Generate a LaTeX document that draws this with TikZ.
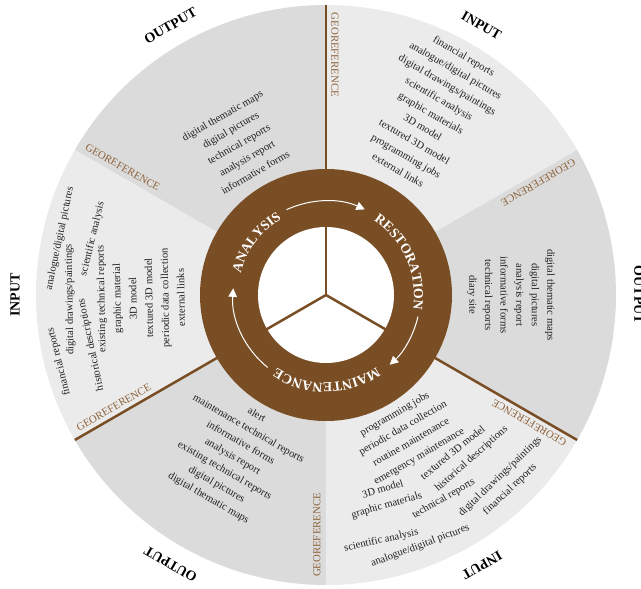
\documentclass[tikz,border=0pt]{standalone}
\usepackage{fontspec}
\setmainfont{Liberation Serif}
\usetikzlibrary{decorations.text,arrows.meta,calc}
\definecolor{ringbrown}{RGB}{122,78,37}
\definecolor{geobrown}{RGB}{140,98,58}
\definecolor{lightsec}{RGB}{235,235,235}
\definecolor{darksec}{RGB}{219,219,219}
\definecolor{txtcol}{RGB}{35,31,32}
\newcommand\ringfont{\bfseries\fontsize{13.8}{15}\selectfont}
\newcommand\cwline[4]{\pgfmathsetmacro\rotang{#2-90}\node[listtext, rotate=\rotang] (#1) at (#2:#3) {#4};}
\newcommand\rdline[4]{\pgfmathsetmacro\rotang{#2+90}\node[listtext, rotate=\rotang] (#1) at (#2:#3) {#4};}
\begin{document}
\begin{tikzpicture}[x=1pt,y=1pt,
  listtext/.style={font=\fontsize{10.6}{12}\selectfont, text=txtcol, inner sep=0pt, text height=7.5pt, text depth=2.5pt},
  georef/.style={font=\fontsize{10.8}{12}\selectfont, text=geobrown, inner sep=0pt, text height=7pt, text depth=0pt},
  sectorlabel/.style={font=\bfseries\fontsize{14}{16}\selectfont, text=black, inner sep=0pt, text height=9.3pt, text depth=0pt},
  divider/.style={draw=ringbrown, line width=2.5pt},
  cyclearrow/.style={draw=white, line width=1pt, -{Triangle[length=8.5pt,width=8.5pt]}},
]
\useasboundingbox (-326,-294) rectangle (315,295);
\fill[white] (-326,-294) rectangle (315,295);
\coordinate (O) at (0,0);

% sectors
\fill[lightsec] (O) -- (30:290) arc[start angle=30, end angle=90, radius=290] -- cycle;
\fill[darksec] (O) -- (90:290) arc[start angle=90, end angle=150, radius=290] -- cycle;
\fill[lightsec] (O) -- (150:290) arc[start angle=150, end angle=210, radius=290] -- cycle;
\fill[darksec] (O) -- (210:290) arc[start angle=210, end angle=270, radius=290] -- cycle;
\fill[lightsec] (O) -- (270:290) arc[start angle=270, end angle=330, radius=290] -- cycle;
\fill[darksec] (O) -- (330:290) arc[start angle=330, end angle=390, radius=290] -- cycle;

% ring
\fill[ringbrown] (O) circle[radius=126];
\fill[white] (O) circle[radius=68];

% dividers
\coordinate (d1) at (90:290);
\coordinate (d2) at (210:290);
\coordinate (d3) at (330:290);
\draw[divider] (O) -- (d1);
\draw[divider] (O) -- (d2);
\draw[divider] (O) -- (d3);

% cycle arrows
\draw[cyclearrow] (114.8:94) arc[start angle=114.8, end angle=65.6, radius=94];
\draw[cyclearrow] (-13.2:94.5) arc[start angle=-13.2, end angle=-47.6, radius=94.5];
\draw[cyclearrow] (231.2:93) arc[start angle=231.2, end angle=175.9, radius=93];

% ring labels
\path[decoration={text along path, text={|\ringfont|ANALYSIS}, text align=center, text color=white}, decorate]
  (183:88) arc[start angle=183, end angle=103, radius=88];
\path[decoration={text along path, text={|\ringfont|RESTORATION}, text align=center, text color=white}, decorate]
  (69:88) arc[start angle=69, end angle=-21, radius=88];
\path[decoration={text along path, text={|\ringfont|MAINTENANCE}, text align=center, text color=white}, decorate]
  (315.5:88) arc[start angle=315.5, end angle=225.5, radius=88];

% georeference labels
\foreach \t/\nm in {90/g1, 30/g2, 330/g3, 270/g4, 210/g5, 150/g6}{
  \pgfmathsetmacro\grot{\t-180}
  \pgfmathsetmacro\gperp{\t-90}
  \node[georef, rotate=\grot] (\nm) at ($(\t:240)+(\gperp:9)$) {GEOREFERENCE};
}

% outer labels
\node[sectorlabel, rotate=-30] (inTR) at (60:311) {INPUT};
\node[sectorlabel, rotate=30] (outTL) at (120:311) {OUTPUT};
\node[sectorlabel, rotate=90] (inL) at (180:311) {INPUT};
\node[sectorlabel, rotate=-90] (outR) at (0:313) {OUTPUT};
\node[sectorlabel, rotate=150] (outBL) at (240:311) {OUTPUT};
\node[sectorlabel, rotate=210] (inBR) at (300:312) {INPUT};

% top-right INPUT
\cwline{tr1}{60}{275}{financial reports}
\cwline{tr2}{60}{258.5}{analogue/digital pictures}
\cwline{tr3}{60}{242}{digital drawings/paintings}
\cwline{tr4}{60}{225.5}{scientific analysis}
\cwline{tr5}{60}{209}{graphic materials}
\cwline{tr6}{60}{192.5}{3D model}
\cwline{tr7}{60}{176}{textured 3D model}
\cwline{tr8}{60}{159.5}{programming jobs}
\cwline{tr9}{60}{143}{external links}

% top-left OUTPUT
\cwline{tl1}{120}{206}{digital thematic maps}
\cwline{tl2}{120}{189.6}{digital pictures}
\cwline{tl3}{120}{173.2}{technical reports}
\cwline{tl4}{120}{156.8}{analysis report}
\cwline{tl5}{120}{140.4}{informative forms}

% right OUTPUT
\cwline{r1}{0}{224}{digital thematic maps}
\cwline{r2}{0}{208.4}{digital pictures}
\cwline{r3}{0}{192.8}{analysis report}
\cwline{r4}{0}{177.2}{informative forms}
\cwline{r5}{0}{161.6}{technical reports}
\cwline{r6}{0}{146}{diary site}

% bottom-left OUTPUT
\rdline{bl1}{240}{139}{alert}
\rdline{bl2}{240}{155}{maintenance technical reports}
\rdline{bl3}{240}{171}{informative forms}
\rdline{bl4}{240}{187}{analysis report}
\rdline{bl5}{240}{203}{existing technical reports}
\rdline{bl6}{240}{219}{digital pictures}
\rdline{bl7}{240}{235}{digital thematic maps}

% left INPUT
\cwline{l1}{194}{275}{financial reports}
\cwline{l2}{168}{272}{analogue/digital pictures}
\cwline{l3}{181}{256}{digital drawings/paintings}
\cwline{l4}{192}{240}{historical descriptions}
\cwline{l5}{166.5}{240}{scientific analysis}
\cwline{l6}{181}{224}{existing technical reports}
\cwline{l7}{181}{208}{graphic material}
\cwline{l8}{181}{192}{3D model}
\cwline{l9}{181}{176}{textured 3D model}
\cwline{l10}{181}{160}{periodic data collection}
\cwline{l11}{181}{144}{external links}

% bottom-right INPUT
\rdline{br1}{300}{138}{programming jobs}
\rdline{br2}{300}{154.25}{periodic data collection}
\rdline{br3}{300}{170.5}{routine maintenance}
\rdline{br4}{300}{186.75}{emergency maintenance}
\rdline{br5}{286.3}{203}{3D model}
\rdline{br6}{308.8}{203}{textured 3D model}
\rdline{br7}{286.1}{219.25}{graphic materials}
\rdline{br8}{311.6}{219.25}{historical descriptions}
\rdline{br9}{300}{235.5}{technical reports}
\rdline{br10}{282.7}{251.75}{scientific analysis}
\rdline{br11}{313.8}{251.75}{digital drawings/paintings}
\rdline{br12}{290.6}{268}{analogue/digital pictures}
\rdline{br13}{313.4}{268}{financial reports}
\end{tikzpicture}
\end{document}
